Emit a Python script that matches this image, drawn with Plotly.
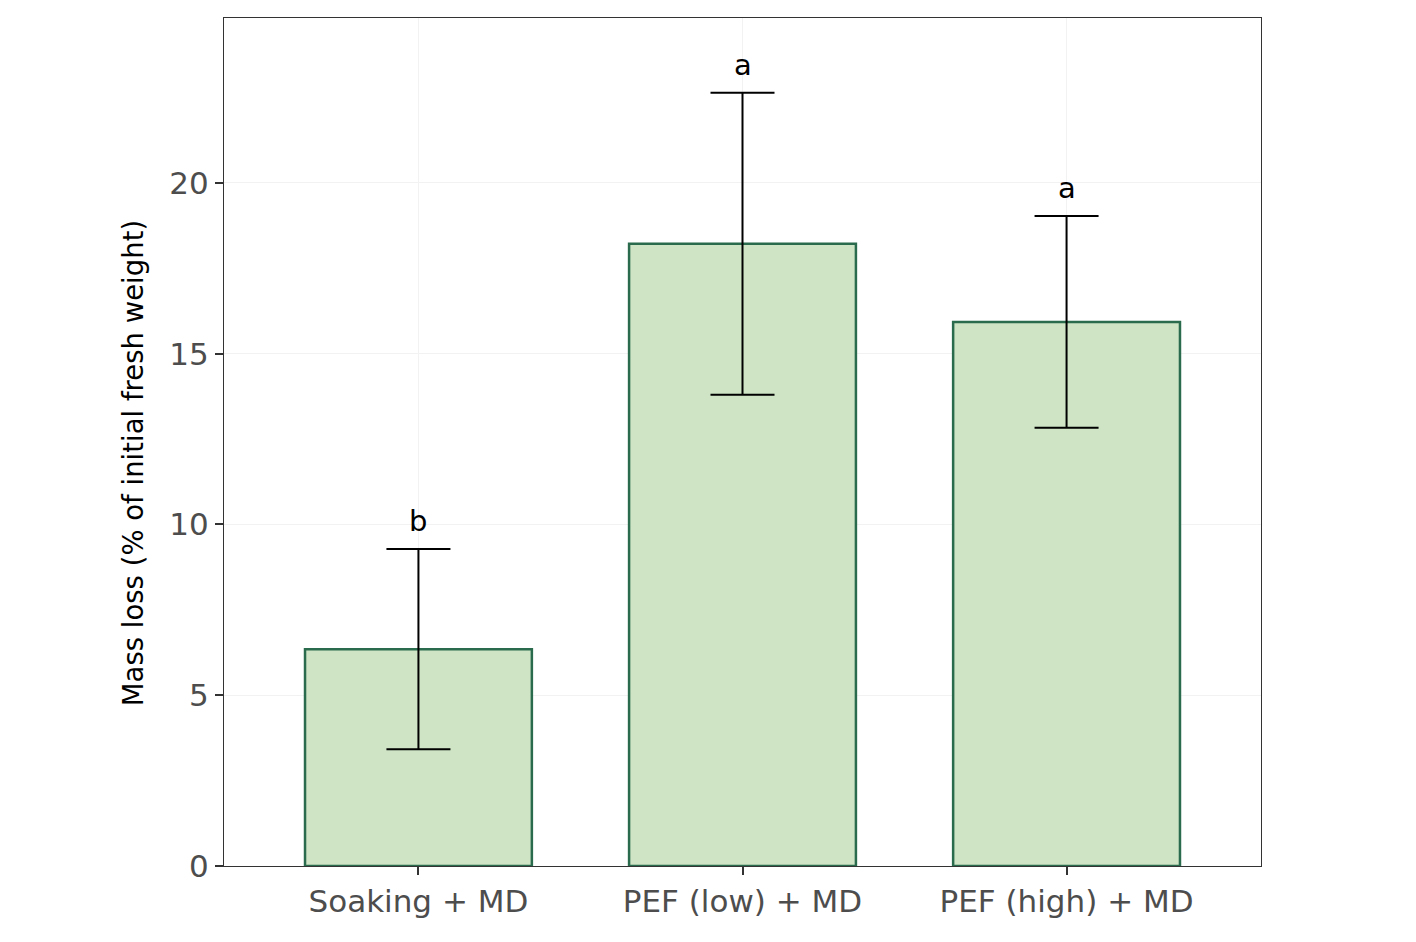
import plotly.graph_objects as go

categories = ["Soaking + MD", "PEF (low) + MD", "PEF (high) + MD"]
means = [6.35, 18.22, 15.93]
sds = [2.93, 4.42, 3.10]
letters = ["b", "a", "a"]
y_ticks = [0, 5, 10, 15, 20]
y_title = "Mass loss (% of initial fresh weight)"

FONT = "DejaVu Sans, sans-serif"

fig = go.Figure()
fig.add_trace(go.Bar(
    x=categories, y=means,
    width=0.7,
    marker=dict(color="#CEE4C5", line=dict(color="#2A6B4E", width=2.5)),
    error_y=dict(type="data", array=sds, visible=True, color="black", thickness=2, width=32),
    showlegend=False,
))

for c, m, s, l in zip(categories, means, sds, letters):
    fig.add_annotation(x=c, y=m + s, text=l, showarrow=False, yanchor="bottom",
                       yshift=9, font=dict(family=FONT, size=29, color="black"))

fig.add_annotation(x=-0.0878, y=0.475, xref="paper", yref="paper", text=y_title,
                   textangle=-90, showarrow=False, xanchor="center", yanchor="middle",
                   font=dict(family=FONT, size=27.5, color="black"))

fig.update_layout(
    width=1416, height=942,
    margin=dict(l=224, r=155, t=18, b=76),
    plot_bgcolor="white", paper_bgcolor="white",
    font=dict(family=FONT),
    bargap=0.3,
)
fig.update_xaxes(
    range=[-0.6, 2.6], showgrid=True, gridcolor="#F2F2F2", gridwidth=1.2,
    showline=True, linecolor="#333333", linewidth=1.2, mirror=True,
    ticks="outside", ticklen=8, tickwidth=1.5, tickcolor="#333333",
    tickfont=dict(family=FONT, size=31, color="#4D4D4D"),
)
fig.update_yaxes(
    range=[0, 24.83], tickvals=y_ticks, showgrid=True, gridcolor="#F2F2F2", gridwidth=1.2,
    showline=True, linecolor="#333333", linewidth=1.2, mirror=True, zeroline=False,
    ticks="outside", ticklen=8, tickwidth=1.5, tickcolor="#333333",
    tickfont=dict(family=FONT, size=31, color="#4D4D4D"),
)

fig.write_html("out.html")
